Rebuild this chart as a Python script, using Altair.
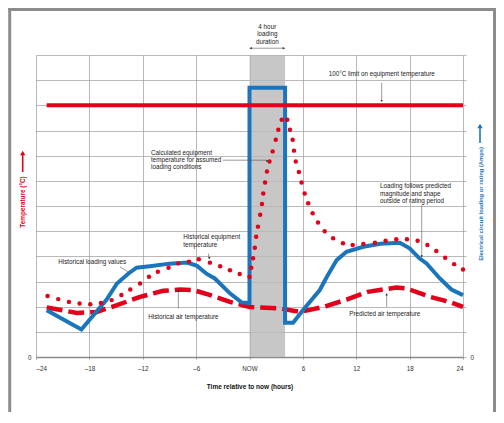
import altair as alt
import pandas as pd

RED = "#e2001a"
BLUE = "#1b75bc"
FONT = "Liberation Sans"
TXT = "#222222"

# ---- series (x = hours relative to now, y = chart units 0..12) ----
load_hours = [-22.8, -18.9, -16.1, -14.9, -13.6, -12.7, -11.2, -9.0, -7.0, -5.9, -4.8, -3.9,
              -2.2, -0.9, 0.0, 0.0, 4.0, 4.0, 4.9, 6.0, 7.9, 8.7, 9.8, 10.9, 12.8, 14.7,
              16.9, 18.0, 19.1, 19.9, 21.4, 22.7, 24.0]
load_values = [1.86, 1.09, 2.26, 2.92, 3.32, 3.55, 3.61, 3.71, 3.75, 3.62, 3.30, 3.12,
               2.53, 2.17, 2.15, 10.7, 10.7, 1.36, 1.36, 1.86, 2.66, 3.19, 3.85, 4.18, 4.38, 4.50,
               4.54, 4.32, 3.92, 3.72, 3.12, 2.68, 2.46]

air_hours = [-22.8, -19.4, -17.2, -14.9, -12.3, -9.7, -7.8, -6.3, -4.4, -2.2, 0.0, 3.4, 5.7,
             8.3, 10.9, 13.3, 16.5, 17.7, 20.3, 22.5, 24.0]
air_values = [1.97, 1.75, 1.79, 2.06, 2.39, 2.63, 2.68, 2.66, 2.46, 2.19, 1.99, 1.93, 1.79,
              1.99, 2.28, 2.59, 2.76, 2.72, 2.39, 2.19, 1.99]

equip_hours = [-22.7, -21.5, -20.3, -19.1, -17.9, -16.7, -15.5, -14.4, -13.4, -12.3, -11.3, -10.3,
               -9.1, -8.0, -6.8, -5.7, -4.45, -3.3, -2.2, -1.1, 0.0, 0.2, 0.4, 0.6, 0.75, 0.95,
               1.2, 1.4, 1.55, 1.75, 1.96, 2.25, 2.6, 2.95, 3.24, 3.62, 4.25, 4.55, 4.85, 5.0,
               5.2, 5.55, 5.85, 6.2, 6.6, 7.1, 7.7, 8.45, 9.4, 10.5, 11.6, 12.8, 14.1, 15.3,
               16.5, 17.7, 18.9, 20.0, 21.0, 22.0, 23.0, 24.0]
equip_values = [2.42, 2.30, 2.19, 2.13, 2.10, 2.15, 2.26, 2.46, 2.68, 2.92, 3.19, 3.39,
                3.55, 3.72, 3.79, 3.88, 3.75, 3.61, 3.45, 3.30, 3.19, 3.55, 3.92, 4.34, 4.78, 5.18,
                5.65, 6.08, 6.50, 6.93, 7.37, 7.77, 8.17, 8.63, 9.03, 9.43, 9.43, 9.03, 8.63, 8.20,
                7.77, 7.35, 6.93, 6.50, 6.11, 5.71, 5.34, 5.00, 4.72, 4.52, 4.45, 4.49, 4.54, 4.62,
                4.68, 4.68, 4.62, 4.45, 4.21, 3.94, 3.69, 3.48]

limit_hours = [-22.8, 24.0]
limit_values = [10.0, 10.0]

band_hours = [0.0, 4.0]
band_values = [0.0, 12.0]

x_ticks = [-24, -18, -12, -6, 0, 6, 12, 18, 24]
y_grid = list(range(13))

# ---- annotation texts (placed in data coordinates) ----
center_text = ["4 hour", "loading", "duration", "100°C limit on equipment temperature"]
center_x = [2.0, 2.0, 2.0, 14.86]
center_y = [13.13, 12.84, 12.53, 11.25]

left_text = ["Calculated equipment", "temperature for assumed", "loading conditions",
             "Historical equipment", "temperature", "Historical loading values",
             "Historical air temperature", "Loading follows predicted", "magnitude and shape",
             "outside of rating period", "Predicted air temperature"]
left_x = [-11.07, -11.07, -11.07, -7.44, -7.44, -21.5, -11.38, 14.67, 14.67, 14.67, 11.22]
left_y = [8.11, 7.82, 7.53, 4.77, 4.44, 3.78, 1.59, 6.79, 6.48, 6.18, 1.70]

ptr_x = [0.0, 14.86, -2.98, -14.56, -4.63, -8.0, 19.36, 15.42]
ptr_y = [12.27, 10.89, 7.82, 3.58, 4.11, 2.65, 6.03, 2.52]
ptr_x2 = [4.0, 14.86, 1.9, -13.62, -4.52, -8.0, 19.36, 15.42]
ptr_y2 = [12.27, 10.2, 7.82, 3.38, 3.91, 1.93, 3.98, 1.99]

head_x = [0.15, 3.85, 14.86, -8.0, 15.42, 19.36, -4.52, 1.95]
head_y = [12.27, 12.27, 10.17, 2.62, 2.49, 4.0, 3.93, 7.78]
head_shape = ["triangle-left", "triangle-right", "triangle-down", "triangle-up", "triangle-up",
              "triangle-down", "triangle-down", "triangle-down"]

# ---- data frames ----
load_df = pd.DataFrame({"x": load_hours, "y": load_values, "i": range(len(load_hours))})
air_df = pd.DataFrame({"x": air_hours, "y": air_values})
equip_df = pd.DataFrame({"x": equip_hours, "y": equip_values})
limit_df = pd.DataFrame({"x": limit_hours, "y": limit_values})
band_df = pd.DataFrame({"x": [band_hours[0]], "x2": [band_hours[1]],
                        "y": [band_values[0]], "y2": [band_values[1]]})
ctext_df = pd.DataFrame({"x": center_x, "y": center_y, "t": center_text})
ltext_df = pd.DataFrame({"x": left_x, "y": left_y, "t": left_text})
ptr_df = pd.DataFrame({"x": ptr_x, "y": ptr_y, "x2": ptr_x2, "y2": ptr_y2})
head_df = pd.DataFrame({"x": head_x, "y": head_y, "s": head_shape})
one = pd.DataFrame({"a": [0]})

xscale = alt.Scale(domain=[-24, 24], nice=False, zero=False)
yscale = alt.Scale(domain=[0, 12], nice=False)

xaxis = alt.Axis(
    values=x_ticks, grid=True, gridColor="#9b9b9b", gridWidth=0.7,
    labelExpr="datum.value == 0 ? 'NOW' : (datum.value < 0 ? '\u2013' + abs(datum.value) : '' + datum.value)",
    labelFontSize=6.3, labelColor="#333333", labelPadding=6,
    tickSize=2, tickColor="#9b9b9b", domainColor="#8a8a8a", domainWidth=1.3,
    title="Time relative to now (hours)", titleFontSize=6.5, titleFontWeight="bold",
    titleColor="#111111", titlePadding=12,
)
yaxis = alt.Axis(
    values=y_grid, grid=True, gridColor="#9b9b9b", gridWidth=0.7,
    labelExpr="datum.value == 0 ? '0' : ''", labelFontSize=6.3, labelColor="#333333",
    ticks=False, domain=False, labelPadding=5,
)

X = alt.X("x:Q", scale=xscale, axis=xaxis)
Y = alt.Y("y:Q", scale=yscale, axis=yaxis, title="")

band = alt.Chart(band_df).mark_rect(color="#b9b9b9", opacity=0.8).encode(
    x=X, x2="x2:Q", y=Y, y2="y2:Q")

air = alt.Chart(air_df).mark_line(color=RED, strokeWidth=4.5, strokeDash=[16, 6]).encode(x=X, y=Y)

load = alt.Chart(load_df).mark_line(color=BLUE, strokeWidth=4, strokeJoin="miter").encode(
    x=X, y=Y, order="i:Q")

limit = alt.Chart(limit_df).mark_line(color=RED, strokeWidth=4).encode(x=X, y=Y)

dots = alt.Chart(equip_df).mark_circle(color=RED, size=20, opacity=1).encode(x=X, y=Y)

ptrs = alt.Chart(ptr_df).mark_rule(color="#555555", strokeWidth=0.6).encode(
    x=X, y=Y, x2="x2:Q", y2="y2:Q")

heads = alt.Chart(head_df).mark_point(filled=True, color="#333333", size=6, opacity=1).encode(
    x=X, y=Y, shape=alt.Shape("s:N", scale=None))

ctext = alt.Chart(ctext_df).mark_text(fontSize=6.3, color=TXT, align="center", baseline="middle").encode(
    x=X, y=Y, text="t:N")
ltext = alt.Chart(ltext_df).mark_text(fontSize=6.3, color=TXT, align="left", baseline="middle").encode(
    x=X, y=Y, text="t:N")

# axis titles with arrows
ltitle = alt.Chart(pd.DataFrame({"t": ["Temperature (°C)"]})).mark_text(
    fontSize=6.4, fontWeight="bold", color=RED, angle=270, align="center", baseline="middle"
).encode(text="t:N", x=alt.value(-13), y=alt.value(147))
rtitle = alt.Chart(pd.DataFrame({"t": ["Electrical circuit loading or rating (Amps)"]})).mark_text(
    fontSize=5.8, fontWeight="bold", color=BLUE, angle=270, align="center", baseline="middle"
).encode(text="t:N", x=alt.value(444.7), y=alt.value(149))

larrow = alt.Chart(one).mark_rule(color=RED, strokeWidth=1.6).encode(
    x=alt.value(-13.3), y=alt.value(99), y2=alt.value(117))
larrow_h = alt.Chart(one).mark_point(shape="triangle-up", filled=True, color=RED, size=28, opacity=1).encode(
    x=alt.value(-13.3), y=alt.value(98))
rarrow = alt.Chart(one).mark_rule(color=BLUE, strokeWidth=1.6).encode(
    x=alt.value(444), y=alt.value(72), y2=alt.value(88))
rarrow_h = alt.Chart(one).mark_point(shape="triangle-up", filled=True, color=BLUE, size=28, opacity=1).encode(
    x=alt.value(444), y=alt.value(71))

# page frame: left, top and right edges (bottom runs off the page)
FRAME = "#8c8c8c"
frame_l = alt.Chart(one).mark_rule(color=FRAME, strokeWidth=3).encode(
    x=alt.value(-26.3), y=alt.value(-47), y2=alt.value(357))
frame_r = alt.Chart(one).mark_rule(color=FRAME, strokeWidth=3).encode(
    x=alt.value(458.5), y=alt.value(-47), y2=alt.value(357))
frame_t = alt.Chart(one).mark_rule(color=FRAME, strokeWidth=3).encode(
    y=alt.value(-45.5), x=alt.value(-27.8), x2=alt.value(460))

main = alt.layer(band, air, load, limit, dots, ptrs, heads, ctext, ltext,
                 ltitle, rtitle, larrow, larrow_h, rarrow, rarrow_h, frame_l, frame_r, frame_t)

right_axis = alt.Chart(pd.DataFrame({"y": y_grid})).mark_tick(opacity=0).encode(
    y=alt.Y("y:Q", scale=alt.Scale(domain=[0, 12], nice=False), title="",
            axis=alt.Axis(orient="right", values=y_grid, grid=False, domain=False,
                          tickSize=3, tickColor="#9b9b9b", tickWidth=0.7,
                          labelExpr="datum.value == 0 ? '0' : ''", labelFontSize=6.3,
                          labelColor="#333333", labelPadding=4))
)

chart = alt.layer(main, right_axis).resolve_scale(y="independent").properties(
    width=427, height=302, autosize="none",
    padding={"left": 28, "top": 47, "right": 33, "bottom": 55},
).configure(font=FONT).configure_view(stroke=None)

chart.save("out.html", embed_options={"renderer": "svg", "actions": False})
